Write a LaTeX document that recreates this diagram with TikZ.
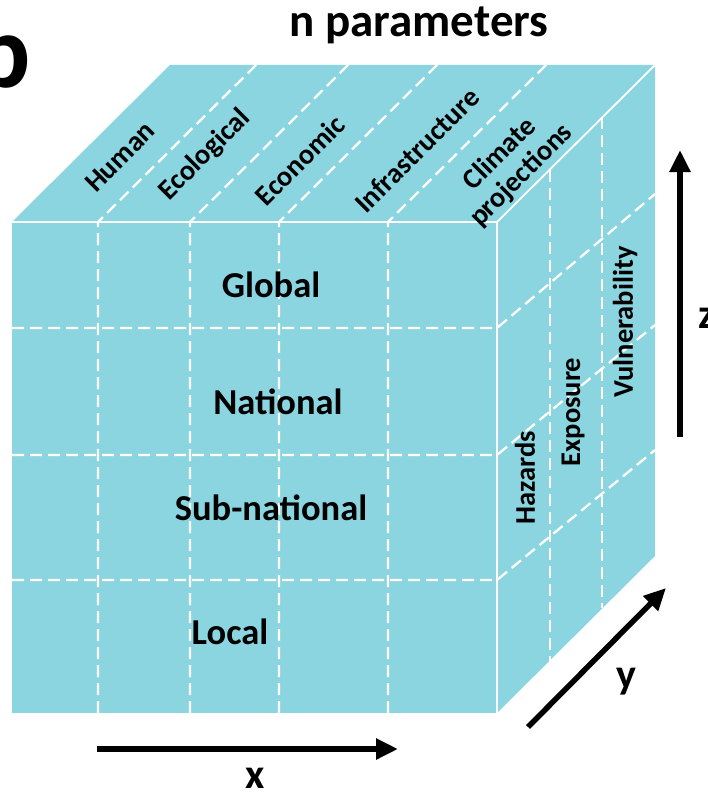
\documentclass[tikz,border=0pt]{standalone}
\usepackage{fontspec}
\setmainfont{Carlito}
\usetikzlibrary{arrows.meta,calc}
\definecolor{cubeblue}{RGB}{139,213,225}

\begin{document}
\begin{tikzpicture}
  [x=1pt,y=-1pt,every node/.style={font=\bfseries},
   face/.style={fill=cubeblue},
   edge/.style={white,line width=1.8pt},
   dashline/.style={white,line width=2.3pt,dash pattern=on 12pt off 6pt},
   axis/.style={line width=5.5pt,-{Triangle[length=22pt,width=20pt]}},
   frontlab/.style={font=\bfseries\fontsize{36.5}{38}\selectfont},
   sidelab/.style={font=\bfseries\fontsize{28.5}{30}\selectfont},
   big/.style={font=\bfseries\fontsize{42}{44}\selectfont}]
  \useasboundingbox (0,0) rectangle (708,797);
  \coordinate (a) at (12,222);
  \coordinate (b) at (497,222);
  \coordinate (c) at (497,713);
  \coordinate (d) at (12,713);
  \coordinate (e) at (170,65);
  \coordinate (f) at (655,65);
  \coordinate (g) at (655,556);
  \fill[face] (a) -- (b) -- (c) -- (d) -- cycle;
  \fill[face] (a) -- (e) -- (f) -- (b) -- cycle;
  \fill[face] (b) -- (f) -- (g) -- (c) -- cycle;
  \foreach \x in {98,190,279,388} {
    \draw[dashline] (\x,713) -- (\x,222) -- ++(158,-157);
  }
  \foreach \l/\r in {328/194,455/325,580/450}
    \draw[dashline] (12,\l) -- (497,\l) -- (655,\r);
  \foreach \t in {1,2}
    \draw[dashline] ($(b)!\t/3!(f)$) -- ($(c)!\t/3!(g)$);
  \foreach \from/\to in {a/b,b/c,b/f}
    \draw[edge] (\from) -- (\to);

  \node[frontlab] (global) at (271,285) {Global};
  \node[frontlab] (national) at (278,402) {National};
  \node[frontlab] (subnat) at (271,508) {Sub-national};
  \node[frontlab] (local) at (230,632) {Local};

  \node[sidelab,rotate=45] (human) at (120,157) {Human};
  \node[sidelab,rotate=45] (ecol) at (205,155) {Ecological};
  \node[sidelab,rotate=45] (econ) at (300,160) {Economic};
  \node[sidelab,rotate=45] (infra) at (417,150) {Infrastructure};
  \node[sidelab,rotate=45,align=center] (climate) at (511,165) {Climate\\projections};

  \node[sidelab,rotate=90] (haz) at (525,478) {Hazards};
  \node[sidelab,rotate=90] (expo) at (573,412) {Exposure};
  \node[sidelab,rotate=90] (vuln) at (625,322) {Vulnerability};

  \node[font=\bfseries\fontsize{47}{50}\selectfont] (title) at (419,25) {n parameters};
  \node[font=\bfseries\fontsize{105}{105}\selectfont,anchor=base east,inner sep=0pt] (panel) at (31,88) {b};

  \coordinate (x0) at (97,749);
  \coordinate (x1) at (398,749);
  \coordinate (y0) at (528,727);
  \coordinate (y1) at (666,588);
  \coordinate (z0) at (680,437);
  \coordinate (z1) at (680,150);
  \foreach \from/\to in {x0/x1,y0/y1,z0/z1}
    \draw[axis] (\from) -- (\to);
  \node[big] (xlab) at (255,778) {x};
  \node[big] (ylab) at (626,682) {y};
  \node[big] (zlab) at (707,318) {z};
\end{tikzpicture}
\end{document}
